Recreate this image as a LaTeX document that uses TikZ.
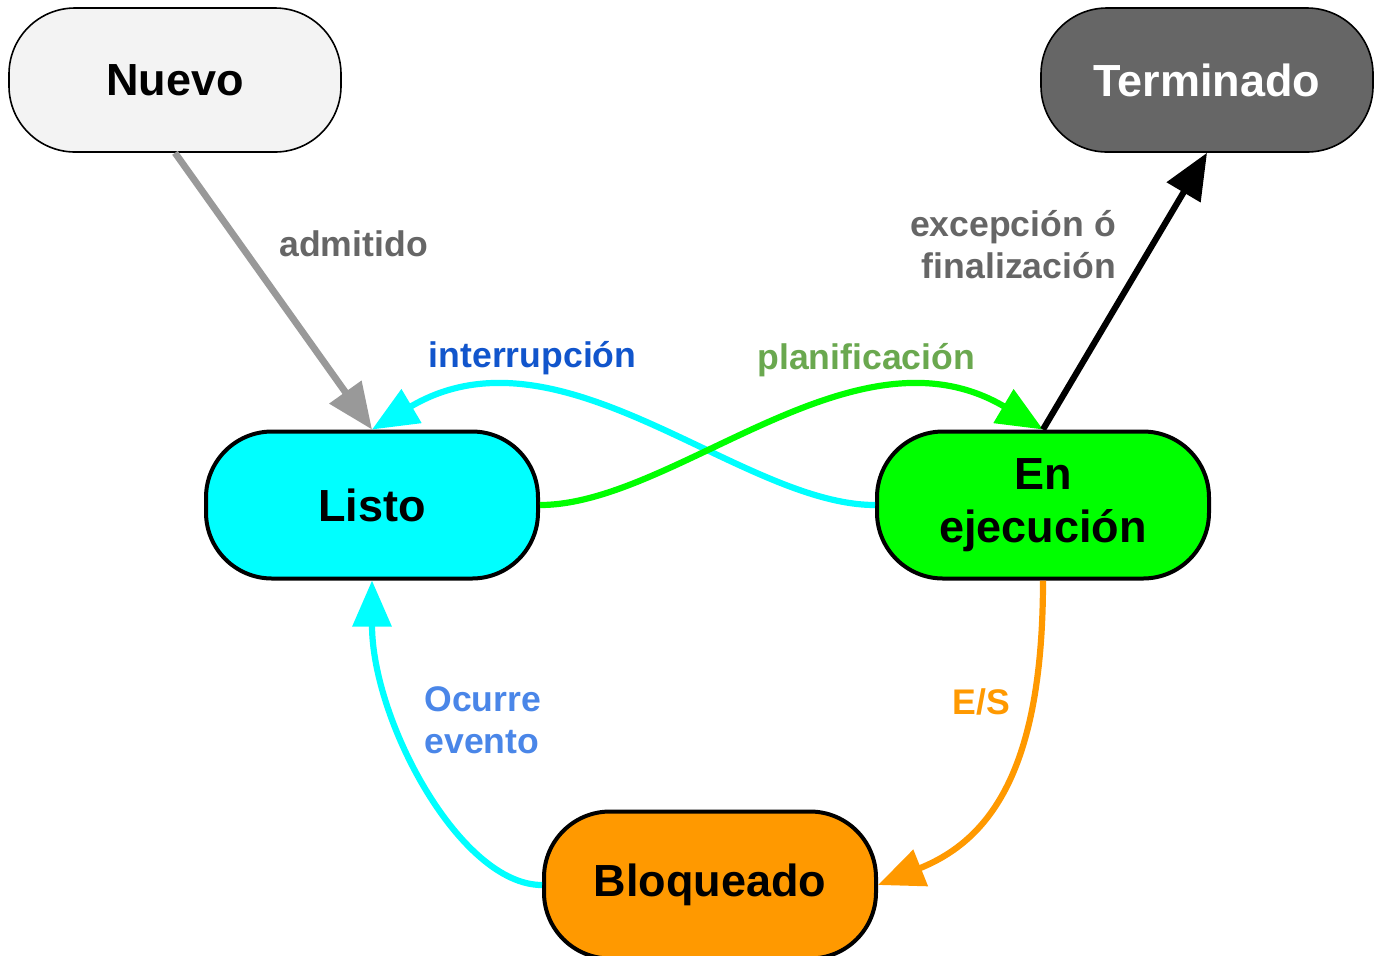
\documentclass[tikz,border=0pt]{standalone}
\usepackage{fontspec}
\setmainfont{Liberation Sans}
\usetikzlibrary{arrows.meta,positioning}

\definecolor{grisclaro}{HTML}{F3F3F3}
\definecolor{grisoscuro}{HTML}{666666}
\definecolor{grismedio}{HTML}{999999}
\definecolor{cian}{HTML}{00FFFF}
\definecolor{verde}{HTML}{00FF00}
\definecolor{naranja}{HTML}{FF9900}
\definecolor{azul}{HTML}{1155CC}
\definecolor{azulclaro}{HTML}{4A86E8}
\definecolor{verdeosc}{HTML}{6AA84F}

\begin{document}
\begin{tikzpicture}[x=0.5pt,y=-0.5pt,>={Triangle[length=23pt,width=19pt]},
	estado/.style={rectangle,rounded corners=33pt,draw=black,line width=2pt,
		minimum width=166pt,minimum height=73.5pt,align=center,
		font=\fontsize{22.5}{27.5}\selectfont\bfseries},
	extremo/.style={estado,line width=0.8pt,minimum height=72pt},
	etiq/.style={inner sep=0pt,font=\fontsize{17.8}{21}\selectfont\bfseries},
	flecha/.style={->,line width=3.1pt}
	]

	\useasboundingbox (0,0) rectangle (1377,955);

	\node[extremo,fill=grisclaro] (nuevo) at (175,80) {Nuevo};
	\node[extremo,fill=grisoscuro,text=white] (term) at (1207,80) {Terminado};

	\node[estado,fill=cian] (listo) at (372,505) {Listo};
	\node[estado,fill=verde] (ejec) at (1043,505) {\raisebox{-3pt}{En}\\\raisebox{-2pt}{ejecución}};
	\node[estado,fill=naranja] (bloq) at (710,885) {Bloqueado};

	\draw[flecha,grismedio,line width=3.4pt] (nuevo.south) -- node[etiq,pos=0.33,right=18pt,grisoscuro]{admitido} (listo.north);

	\draw[flecha,cian] (ejec.west) .. controls (740,505) and (560,318) .. node[etiq,pos=0.71,above=9pt,azul]{interrupción} (listo.north);
	\draw[flecha,verde] (listo.east) .. controls (675,505) and (855,318) .. node[etiq,pos=0.68,above=9pt,verdeosc]{planificación} (ejec.north);

	\draw[flecha,black] (ejec.north) -- node[etiq,pos=0.67,left=17pt,align=right,grisoscuro]{excepción ó\\finalización} (term.south);

	\draw[flecha,naranja] (ejec.south) .. controls (1043,770) and (990,840) .. node[etiq,pos=0.25,left=10pt,naranja]{E/S} (bloq.east);
	\draw[flecha,cian] (bloq.west) .. controls (460,885) and (372,720) .. node[etiq,pos=0.67,right=12pt,align=left,azulclaro]{Ocurre\\evento} (listo.south);

\end{tikzpicture}
\end{document}
